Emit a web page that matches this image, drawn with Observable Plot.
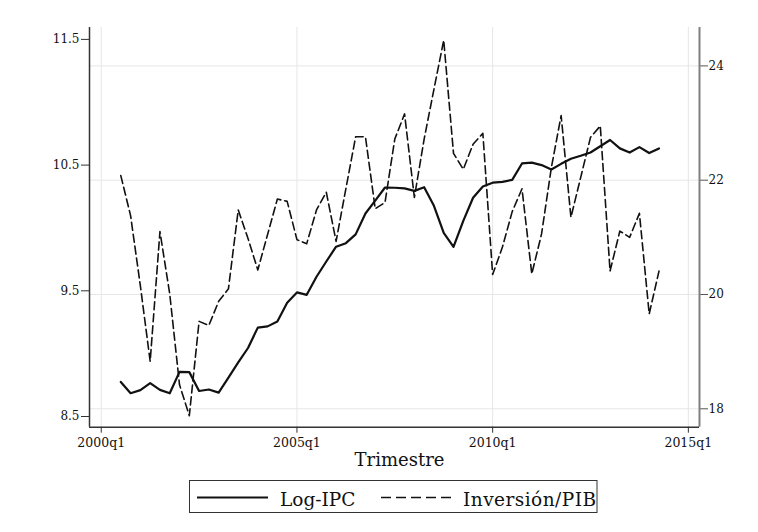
<!DOCTYPE html>
<html>
<head>
<meta charset="utf-8">
<script src="https://cdn.jsdelivr.net/npm/d3@7"></script>
<script src="https://cdn.jsdelivr.net/npm/@observablehq/plot@0.6"></script>
<style>
  html, body { margin: 0; padding: 0; background: white; }
  #wrap { position: relative; width: 758px; height: 532px; }
  #legend { position: absolute; left: 0; top: 0; }
</style>
</head>
<body>
<div id="wrap"></div>
<script>
// ---- data ----
const quarters = ["2000q3","2000q4",
  "2001q1","2001q2","2001q3","2001q4","2002q1","2002q2","2002q3","2002q4",
  "2003q1","2003q2","2003q3","2003q4","2004q1","2004q2","2004q3","2004q4",
  "2005q1","2005q2","2005q3","2005q4","2006q1","2006q2","2006q3","2006q4",
  "2007q1","2007q2","2007q3","2007q4","2008q1","2008q2","2008q3","2008q4",
  "2009q1","2009q2","2009q3","2009q4","2010q1","2010q2","2010q3","2010q4",
  "2011q1","2011q2","2011q3","2011q4","2012q1","2012q2","2012q3","2012q4",
  "2013q1","2013q2","2013q3","2013q4","2014q1","2014q2"];
const logIPC = [8.775, 8.685, 8.71, 8.765, 8.712, 8.685, 8.855, 8.853, 8.703, 8.715,
  8.69, 8.81, 8.93, 9.045, 9.207, 9.217, 9.255, 9.405, 9.487, 9.468,
  9.612, 9.733, 9.851, 9.879, 9.949, 10.115, 10.217, 10.322, 10.32, 10.315,
  10.295, 10.324, 10.176, 9.96, 9.85, 10.056, 10.24, 10.33, 10.36, 10.367,
  10.383, 10.513, 10.52, 10.50, 10.465, 10.51, 10.55, 10.574, 10.60, 10.65,
  10.70, 10.633, 10.60, 10.643, 10.596, 10.633];
const inversionPIB = [22.08, 21.38, 20.15, 18.83, 21.10, 20.01, 18.42, 17.88, 19.53, 19.46,
  19.88, 20.10, 21.48, 20.98, 20.43, 21.05, 21.67, 21.63, 20.96, 20.89,
  21.48, 21.79, 20.93, 21.85, 22.76, 22.76, 21.50, 21.61, 22.72, 23.16,
  21.70, 22.72, 23.59, 24.45, 22.47, 22.19, 22.63, 22.82, 20.35, 20.83,
  21.45, 21.85, 20.36, 21.06, 22.22, 23.13, 21.35, 22.05, 22.75, 22.95,
  20.41, 21.11, 21.00, 21.42, 19.66, 20.41];
const xTickLabels = ["2000q1", "2005q1", "2010q1", "2015q1"];
const leftTicks = [8.5, 9.5, 10.5, 11.5];
const rightTicks = [18, 20, 22, 24];
const seriesNames = ["Log-IPC", "Inversión/PIB"];
const xTitle = "Trimestre";

// ---- helpers ----
const qIndex = s => (+s.slice(0, 4) - 2000) * 4 + (+s.slice(5) - 1);
const leftDomain = [8.4149, 11.5947];
const rightDomain = [17.678, 24.672];
const toLeft = d3.scaleLinear().domain(rightDomain).range(leftDomain);

const rows = quarters.map((q, i) => ({t: qIndex(q), ipc: logIPC[i], inv: toLeft(inversionPIB[i])}));
const xTicks = xTickLabels.map(qIndex);
const xDomain = [-1.2, 61.14];

const W = 758, H = 475;
const chart = Plot.plot({
  width: W, height: H,
  marginLeft: 89, marginRight: 59, marginTop: 27, marginBottom: 48.3,
  style: {fontFamily: "DejaVu Serif", fontSize: "12px", color: "#111", background: "white"},
  x: {type: "linear", domain: xDomain},
  y: {type: "linear", domain: leftDomain},
  marks: [
    Plot.gridX(xTicks, {stroke: "#e6e6e6", strokeOpacity: 1, strokeWidth: 1}),
    Plot.gridY(rightTicks.map(v => toLeft(v)), {stroke: "#e6e6e6", strokeOpacity: 1, strokeWidth: 1}),
    Plot.axisY(leftTicks, {anchor: "left", tickSize: 8, tickPadding: 2, tickFormat: d3.format(".1f"), label: null, stroke: "#333"}),
    Plot.axisY(rightTicks.map(v => toLeft(v)), {anchor: "right", tickSize: 8, tickPadding: 1, tickFormat: (d, i) => String(rightTicks[i]), label: null, stroke: "#555"}),
    Plot.axisX(xTicks, {anchor: "bottom", tickSize: 6, tickPadding: 5, tickFormat: (d, i) => xTickLabels[i], label: null, stroke: "#333", fontSize: 12.5}),
    Plot.ruleX([xDomain[0]], {stroke: "#333", strokeWidth: 1.5}),
    Plot.ruleX([xDomain[1]], {stroke: "#808080", strokeWidth: 2}),
    Plot.ruleY([leftDomain[0]], {stroke: "#333", strokeWidth: 1.5}),
    Plot.line(rows, {x: "t", y: "inv", stroke: "#111", strokeWidth: 1.6, strokeDasharray: "8,4"}),
    Plot.line(rows, {x: "t", y: "ipc", stroke: "#111", strokeWidth: 2.2}),
    Plot.text([xTitle], {frameAnchor: "bottom", dy: 33, dx: 5, lineAnchor: "middle", fontSize: 18, fill: "#111"})
  ]
});
const wrap = document.getElementById("wrap");
chart.style.display = "block";
wrap.appendChild(chart);

// ---- legend (below the plot) ----
const ns = "http://www.w3.org/2000/svg";
const leg = document.createElementNS(ns, "svg");
leg.setAttribute("width", W); leg.setAttribute("height", 57);
leg.setAttribute("id", "legend");
leg.style.position = "absolute"; leg.style.left = "0px"; leg.style.top = H + "px";
const oy = -H;
leg.innerHTML = `
  <rect x="189.5" y="${480.5 + oy}" width="407.5" height="32" fill="white" stroke="#333" stroke-width="1"/>
  <line x1="197" x2="268" y1="${497.5 + oy}" y2="${497.5 + oy}" stroke="#111" stroke-width="2.2"/>
  <text x="280" y="${506 + oy}" font-family="DejaVu Serif" font-size="18.5" fill="#111">${seriesNames[0]}</text>
  <line x1="381" x2="452" y1="${497.5 + oy}" y2="${497.5 + oy}" stroke="#111" stroke-width="1.6" stroke-dasharray="10,5"/>
  <text x="463" y="${506 + oy}" font-family="DejaVu Serif" font-size="18.5" fill="#111" textLength="133" lengthAdjust="spacing">${seriesNames[1]}</text>
`;
wrap.appendChild(leg);
</script>
</body>
</html>
